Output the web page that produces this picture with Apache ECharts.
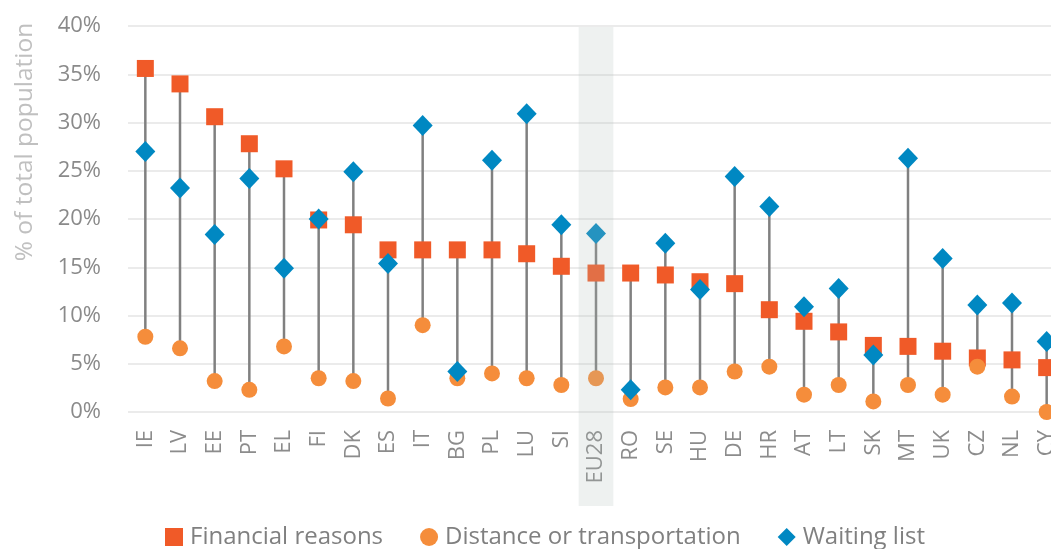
<!DOCTYPE html>
<html>
<head>
<meta charset="utf-8">
<script src="https://cdn.jsdelivr.net/npm/echarts@6/dist/echarts.min.js"></script>
<style>
  html, body { margin: 0; padding: 0; background: #ffffff; }
  #chart { width: 1051px; height: 549px; }
</style>
</head>
<body>
<div id="chart"></div>
<script>
// Countries, ordered by share reporting unmet needs for financial reasons
const countries = ['IE','LV','EE','PT','EL','FI','DK','ES','IT','BG','PL','LU','SI','EU28',
                   'RO','SE','HU','DE','HR','AT','LT','SK','MT','UK','CZ','NL','CY'];

// % of total population
const financial = [35.6,34.0,30.6,27.8,25.2,19.9,19.4,16.8,16.8,16.8,16.8,16.4,15.1,14.4,
                   14.4,14.2,13.5,13.3,10.6,9.4,8.3,6.9,6.8,6.3,5.6,5.4,4.6];
const distance  = [7.8,6.6,3.2,2.3,6.8,3.5,3.2,1.4,9.0,3.5,4.0,3.5,2.8,3.5,
                   1.35,2.55,2.55,4.2,4.7,1.8,2.8,1.1,2.8,1.8,4.7,1.6,0.0];
const waiting   = [27.0,23.2,18.4,24.2,14.9,20.0,24.9,15.4,29.7,4.2,26.1,30.9,19.4,18.5,
                   2.3,17.5,12.7,24.4,21.3,10.9,12.8,5.9,26.3,15.9,11.1,11.3,7.3];

const yTicks = [0, 5, 10, 15, 20, 25, 30, 35, 40];
const highlight = 'EU28';

const FONT = '"Open Sans", Lato, sans-serif';
const COL_FIN = '#f05a28';
const COL_DIST = '#f58d3b';
const COL_WAIT = '#0088c2';

// vertical range per country: lowest to highest of the three indicators
const ranges = countries.map((c, i) => {
  const v = [financial[i], distance[i], waiting[i]];
  return [i, Math.min(...v), Math.max(...v)];
});

const chart = echarts.init(document.getElementById('chart'), null, { renderer: 'canvas' });

chart.setOption({
  animation: false,
  backgroundColor: '#ffffff',
  // the last column runs past the right edge of the page
  grid: { left: 128, width: 936, top: 26, bottom: 137, containLabel: false, outerBoundsMode: 'none' },
  xAxis: {
    type: 'category',
    data: countries,
    boundaryGap: true,
    axisLine: { show: false },
    axisTick: { show: false },
    axisLabel: {
      rotate: 90, margin: 18, interval: 0,
      color: '#8c8c8c', fontFamily: FONT, fontSize: 22
    }
  },
  yAxis: {
    type: 'value',
    min: yTicks[0], max: yTicks[yTicks.length - 1], interval: 5,
    axisLine: { show: false },
    axisTick: { show: false },
    splitLine: { lineStyle: { color: '#e4e4e4', width: 1.5 } },
    axisLabel: {
      margin: 27, color: '#8a8a8a', fontFamily: FONT, fontSize: 22,
      formatter: v => v + '%'
    }
  },
  legend: {
    left: 165, top: 525, padding: 0,
    itemWidth: 18, itemHeight: 18, itemGap: 37,
    textStyle: { color: '#808080', fontFamily: FONT, fontSize: 24, padding: [0, 0, 0, 2] },
    data: [
      { name: 'Financial reasons', icon: 'rect' },
      { name: 'Distance or transportation', icon: 'circle' },
      { name: 'Waiting list', icon: 'diamond' }
    ]
  },
  series: [
    {
      type: 'custom',
      name: 'range',
      z: 1,
      data: ranges,
      renderItem: (params, api) => {
        const p1 = api.coord([api.value(0), api.value(1)]);
        const p2 = api.coord([api.value(0), api.value(2)]);
        return {
          type: 'line',
          shape: { x1: p1[0], y1: p1[1], x2: p2[0], y2: p2[1] },
          style: { stroke: '#808080', lineWidth: 2.5 }
        };
      }
    },
    {
      type: 'scatter', name: 'Financial reasons', z: 2,
      symbol: 'rect', symbolSize: 17,
      itemStyle: { color: COL_FIN, opacity: 1 },
      data: financial
    },
    {
      type: 'scatter', name: 'Distance or transportation', z: 3,
      symbol: 'circle', symbolSize: 16,
      itemStyle: { color: COL_DIST, opacity: 1 },
      data: distance
    },
    {
      type: 'scatter', name: 'Waiting list', z: 4,
      symbol: 'diamond', symbolSize: [20, 21],
      itemStyle: { color: COL_WAIT, opacity: 1 },
      data: waiting
    }
  ]
});

// Translucent band over the EU28 column, running from the top gridline down past its label
const idx = countries.indexOf(highlight);
const cx = chart.convertToPixel({ xAxisIndex: 0 }, idx);
const step = chart.convertToPixel({ xAxisIndex: 0 }, idx + 1) - cx;
const yTop = chart.convertToPixel({ yAxisIndex: 0 }, yTicks[yTicks.length - 1]);
const yZero = chart.convertToPixel({ yAxisIndex: 0 }, yTicks[0]);

chart.setOption({
  graphic: [
    {
      type: 'rect', z: 100, silent: true,
      shape: { x: cx - step / 2, y: yTop + 1, width: step, height: yZero - yTop + 93 },
      style: { fill: 'rgba(175,188,182,0.21)' }
    },
    {
      type: 'text', z: 5, silent: true,
      x: 25, y: 142, rotation: Math.PI / 2,
      style: {
        text: '% of total population',
        fill: '#c0c0c0', font: '24.5px ' + FONT,
        align: 'center', verticalAlign: 'middle'
      }
    }
  ]
});
</script>
</body>
</html>
